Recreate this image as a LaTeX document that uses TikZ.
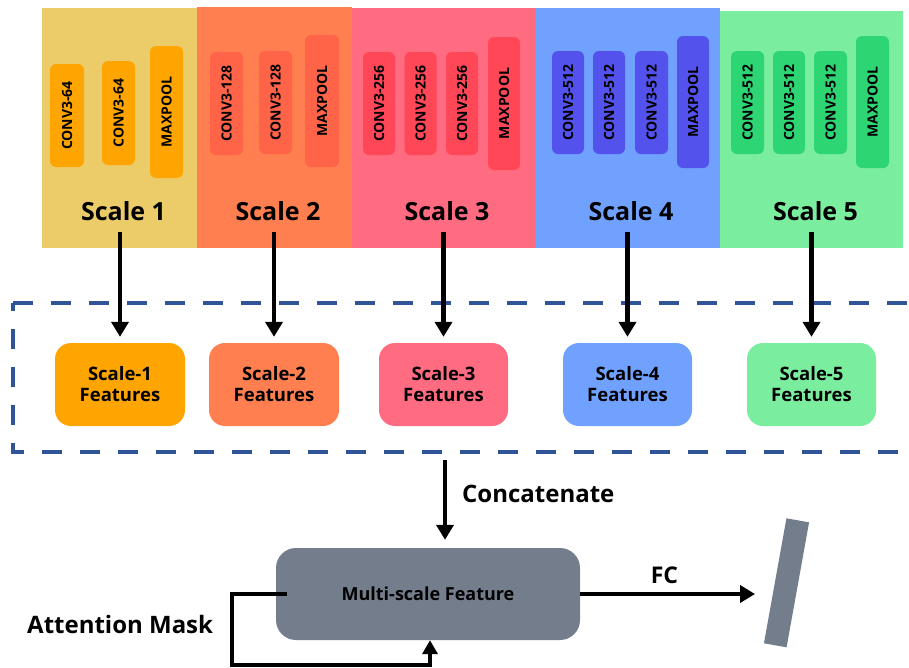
\documentclass[tikz,border=0pt]{standalone}
\usepackage{fontspec}
\setmainfont{Open Sans}
\usetikzlibrary{arrows.meta}
\definecolor{pa}{HTML}{ECCC68}
\definecolor{pb}{HTML}{FF7F50}
\definecolor{pc}{HTML}{FF6B81}
\definecolor{pd}{HTML}{70A1FF}
\definecolor{pe}{HTML}{7BED9F}
\definecolor{la}{HTML}{FFA502}
\definecolor{lb}{HTML}{FF6348}
\definecolor{lc}{HTML}{FF4757}
\definecolor{ld}{HTML}{5352ED}
\definecolor{le}{HTML}{2ED573}
\definecolor{mfgrey}{HTML}{747D8C}
\definecolor{dashblue}{HTML}{2F5597}
\begin{document}
\begin{tikzpicture}[x=1pt,y=-1pt,
  panel/.style={rectangle, inner sep=0pt, draw=none},
  layer/.style={rectangle, rounded corners=6pt, inner sep=0pt, minimum height=33pt, minimum width=103pt, rotate=90, font=\fontsize{14}{16}\selectfont\bfseries},
  pool/.style={layer, minimum width=132pt},
  scalelbl/.style={inner sep=0pt, anchor=base, font=\fontsize{25}{30}\selectfont\bfseries},
  feat/.style={rectangle, rounded corners=16pt, inner sep=0pt, minimum width=130pt, minimum height=83pt, align=center, font=\fontsize{18.5}{21}\selectfont\bfseries},
  arr/.style={line width=4.2pt, -{Triangle[width=17pt,length=15pt]}},
  plain/.style={inner sep=0pt, font=\fontsize{24}{28}\selectfont\bfseries}
]
\useasboundingbox (0,0) rectangle (909,667);

% panels
\node[panel, fill=pa, minimum width=155pt, minimum height=240pt] (P1) at (119.5,128) {};
\node[panel, fill=pb, minimum width=155pt, minimum height=241pt] (P2) at (274.5,127.5) {};
\node[panel, fill=pc, minimum width=183pt, minimum height=240pt] (P3) at (443.5,128) {};
\node[panel, fill=pd, minimum width=185pt, minimum height=240pt] (P4) at (627.5,128) {};
\node[panel, fill=pe, minimum width=183pt, minimum height=237pt] (P5) at (811.5,129.5) {};

% layers scale 1
\node[layer, fill=la, minimum height=34pt] (A1) at (67,115.5) {CONV3-64};
\node[layer, fill=la, minimum width=104pt] (A2) at (118.5,113) {CONV3-64};
\node[pool, fill=la] (A3) at (166.5,112) {MAXPOOL};
% scale 2
\node[layer, fill=lb] (B1) at (226.5,103.5) {CONV3-128};
\node[layer, fill=lb] (B2) at (275.5,102.5) {CONV3-128};
\node[pool, fill=lb, minimum height=34pt] (B3) at (322,101) {MAXPOOL};
% scale 3
\node[layer, fill=lc, minimum height=32pt] (C1) at (379,103.5) {CONV3-256};
\node[layer, fill=lc, minimum height=32pt] (C2) at (420.5,103.5) {CONV3-256};
\node[layer, fill=lc, minimum height=32pt] (C3) at (462,103.5) {CONV3-256};
\node[pool, fill=lc, minimum height=32pt, minimum width=133pt] (C4) at (504,103.5) {MAXPOOL};
% scale 4
\node[layer, fill=ld, minimum height=32pt] (D1) at (568,102.5) {CONV3-512};
\node[layer, fill=ld, minimum height=32pt] (D2) at (609,102.5) {CONV3-512};
\node[layer, fill=ld] (D3) at (651.5,102.5) {CONV3-512};
\node[pool, fill=ld, minimum height=32pt] (D4) at (693,102) {MAXPOOL};
% scale 5
\node[layer, fill=le] (E1) at (747.5,102.5) {CONV3-512};
\node[layer, fill=le, minimum height=32pt] (E2) at (789,102.5) {CONV3-512};
\node[layer, fill=le] (E3) at (830.5,102.5) {CONV3-512};
\node[pool, fill=le] (E4) at (872.5,102) {MAXPOOL};

% scale labels
\node[scalelbl] (S1) at (123.5,220) {Scale 1};
\node[scalelbl] (S2) at (278,220) {Scale 2};
\node[scalelbl] (S3) at (447,220) {Scale 3};
\node[scalelbl] (S4) at (631,220) {Scale 4};
\node[scalelbl] (S5) at (815.5,220) {Scale 5};

% dashed region
\coordinate (dtl) at (13,303);
\coordinate (dbl) at (13,452);
\draw[dashblue, line width=4.5pt, dash pattern=on 20pt off 18pt] (dtl) -- (915,303);
\draw[dashblue, line width=4.5pt, dash pattern=on 20pt off 18pt, dash phase=12pt] (dtl) -- (dbl) -- (915,452);

% feature boxes
\node[feat, fill=la] (F1) at (120,384.5) {Scale-1\\Features};
\node[feat, fill=pb] (F2) at (274,384.5) {Scale-2\\Features};
\node[feat, fill=pc, minimum width=129pt] (F3) at (443.5,384.5) {Scale-3\\Features};
\node[feat, fill=pd, minimum width=129pt] (F4) at (627.5,384.5) {Scale-4\\Features};
\node[feat, fill=pe, minimum width=129pt] (F5) at (811.5,384.5) {Scale-5\\Features};

% arrows scale -> features
\foreach \i in {1,...,5}{
  \draw[arr, shorten <=12pt, shorten >=6pt] (S\i.base -| F\i.north) -- (F\i.north);
}

% multi-scale feature
\node[rectangle, rounded corners=20pt, fill=mfgrey, minimum width=304pt, minimum height=92pt, inner sep=0pt, font=\fontsize{18}{22}\selectfont\bfseries] (MF) at (428,594) {Multi-scale Feature};

\coordinate (cat) at (445,460);
\draw[arr, shorten >=8pt] (cat) -- (cat |- MF.north);
\node[plain, anchor=base west] (CL) at (462,502) {Concatenate};

% FC
\node[rectangle, fill=mfgrey, minimum width=127pt, minimum height=23pt, inner sep=0pt, rotate=79.8] (BAR) at (786.5,582.8) {};
\coordinate (fcend) at (755,594);
\draw[arr, line width=4.6pt] (MF.east) -- (fcend);
\node[plain, anchor=base, font=\fontsize{23}{28}\selectfont\bfseries] (FCL) at (664.5,583) {FC};

% attention mask loop
\coordinate (loopL) at (232,665);
\draw[arr, line width=4pt, -{Triangle[width=15pt,length=14pt]}] ([xshift=11pt]MF.west) -| (loopL) -| ([xshift=2pt]MF.south);
\node[plain, anchor=base west] (AM) at (27,633) {Attention Mask};
\end{tikzpicture}
\end{document}
